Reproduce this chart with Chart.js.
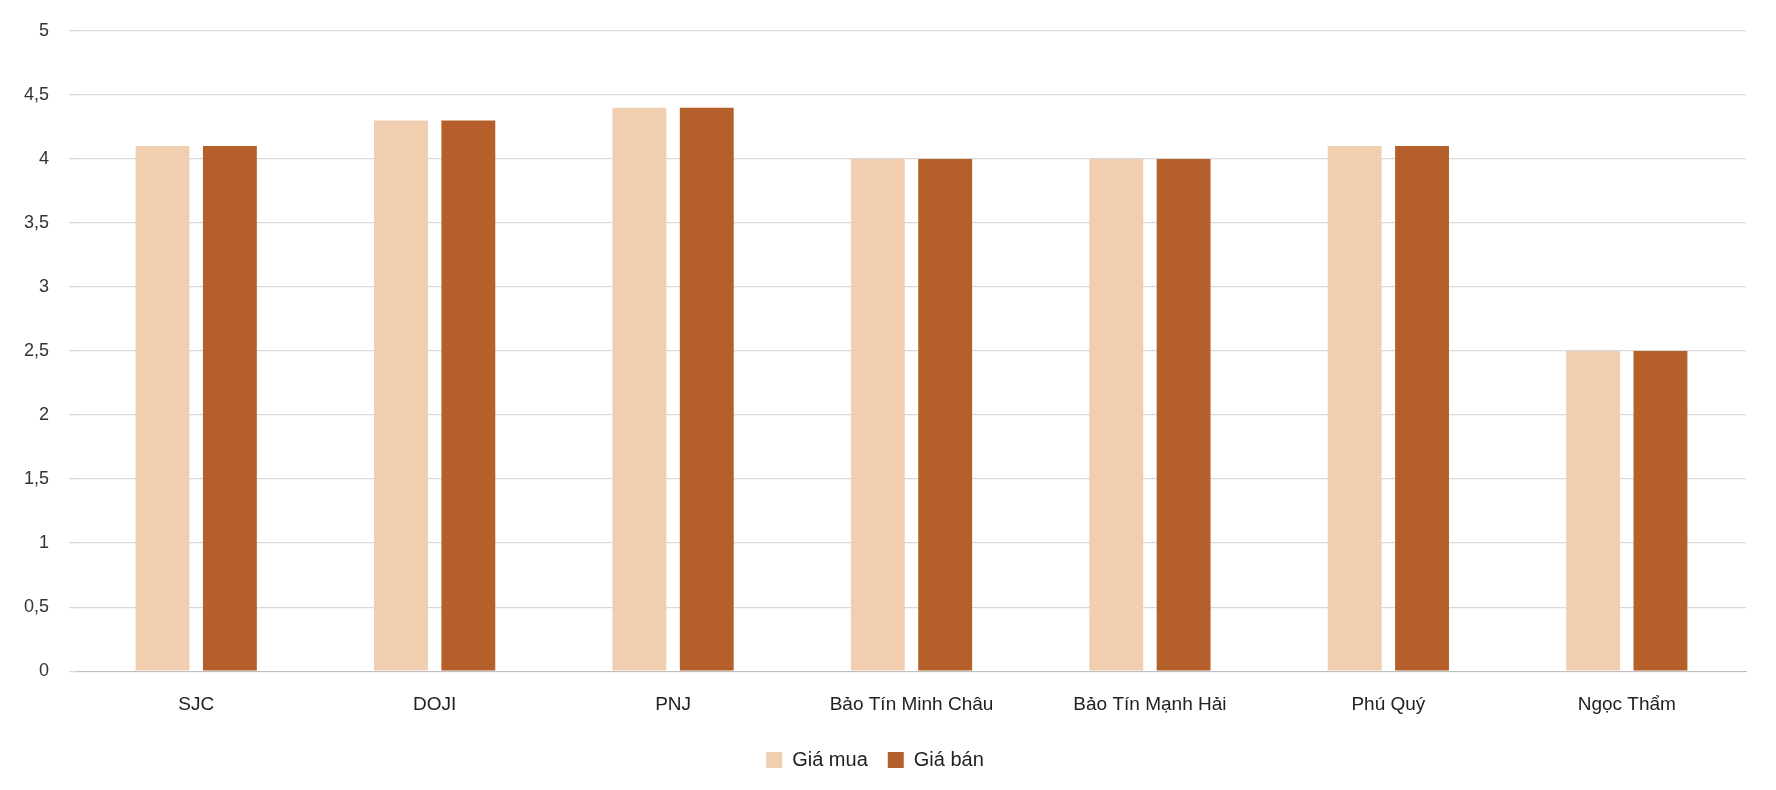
<!DOCTYPE html>
<html><head><meta charset="utf-8">
<script src="https://cdn.jsdelivr.net/npm/chart.js@4/dist/chart.umd.min.js"></script>
<style>html,body{margin:0;background:#fff}#w{width:1776px;height:790px}</style>
</head><body><div id="w"><canvas id="c"></canvas></div>
<script>
const categories = ["SJC","DOJI","PNJ","Bảo Tín Minh Châu","Bảo Tín Mạnh Hải","Phú Quý","Ngọc Thẩm"];
const giaMua = [4.1,4.3,4.4,4.0,4.0,4.1,2.5];
const giaBan = [4.1,4.3,4.4,4.0,4.0,4.1,2.5];
const seriesNames = ["Giá mua","Giá bán"];
new Chart(document.getElementById('c'),{
  type:'bar',
  data:{labels:categories,datasets:[
    {label:seriesNames[0],data:giaMua,backgroundColor:'#F2CEB0'},
    {label:seriesNames[1],data:giaBan,backgroundColor:'#B5602A'}]},
  options:{responsive:true,maintainAspectRatio:false,animation:false,
    categoryPercentage:0.565,barPercentage:0.8,
    layout:{padding:{left:4,right:30,top:10,bottom:10}},
    plugins:{legend:{position:'bottom',labels:{boxWidth:16,boxHeight:16,font:{family:'Liberation Sans',size:20},color:'#222',padding:20}},tooltip:{enabled:false}},
    scales:{
      x:{grid:{display:false},border:{color:'#bfbfbf'},ticks:{font:{family:'Liberation Sans',size:19},color:'#222',padding:14}},
      y:{min:0,max:5,ticks:{stepSize:0.5,font:{family:'Liberation Sans',size:18},color:'#333',padding:20,
        callback:v=>String(v).replace('.',',')},
        grid:{color:'#d9d9d9',lineWidth:1.3},border:{display:false}}
    }}
});
</script></body></html>
